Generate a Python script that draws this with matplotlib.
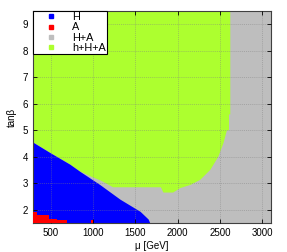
#!/usr/bin/env python3
import numpy as np
import matplotlib.pyplot as plt
from matplotlib.lines import Line2D

plt.rcParams['font.family'] = ['Liberation Sans', 'DejaVu Sans']

# boundaries of the scan regions
# h+H+A (green): lower edge as function of mu, then the right edge up to the top
green_mu = [290, 490, 725, 844, 1000, 1080, 1150, 1235, 1800, 1830, 1945, 2030, 2150,
            2265, 2385, 2480, 2540, 2580, 2605, 2605, 2620, 2620]
green_tb = [4.55, 4.16, 3.72, 3.45, 3.22, 3.12, 3.0, 2.85, 2.85, 2.65, 2.65, 2.82, 2.94,
            3.13, 3.51, 4.01, 4.52, 5.0, 5.0, 5.6, 5.6, 9.5]

# H (blue): upper edge
blue_mu = [290, 490, 725, 844, 1080, 1317, 1555, 1650, 1670]
blue_tb = [4.55, 4.16, 3.72, 3.45, 2.95, 2.40, 1.94, 1.65, 1.5]

# A (red): upper edge (steps)
red_mu = [290, 340, 340, 475, 475, 570, 570, 690, 690]
red_tb = [1.90, 1.90, 1.79, 1.79, 1.66, 1.66, 1.60, 1.60, 1.5]
red2_mu = [970, 1000]
red2_tb = [1.6, 1.6]

labels = ['H', 'A', 'H+A', 'h+H+A']
colors = ['#0000ff', '#ff0000', '#bebebe', '#adff2f']

fig = plt.figure(figsize=(2.87, 2.52), dpi=100)
ax = fig.add_axes([0.115, 0.115, 0.829, 0.841])
ax.set_facecolor(colors[2])

ymin, ymax = 1.5, 9.5
ax.fill(green_mu + [290], green_tb + [9.5], color=colors[3], lw=0, zorder=1)
ax.fill_between(blue_mu, ymin, blue_tb, color=colors[0], lw=0, zorder=2)
ax.fill_between(red_mu, ymin, red_tb, color=colors[1], lw=0, zorder=3)
ax.fill_between(red2_mu, ymin, red2_tb, color=colors[1], lw=0, zorder=3)

ax.set_xlim(290, 3100)
ax.set_ylim(ymin, ymax)
ax.set_xticks([500, 1000, 1500, 2000, 2500, 3000])
ax.set_yticks(range(2, 10))
ax.tick_params(direction='in', top=True, right=True, labelsize=7, length=3, width=0.6)
ax.grid(True, color='#808080', ls=(0, (1.5, 1.5)), lw=0.5, alpha=0.6)
ax.set_axisbelow(False)
for s in ax.spines.values():
    s.set_linewidth(0.8)
    s.set_color('#404040')

ax.set_xlabel('μ [GeV]', fontsize=7, labelpad=2)
ax.set_ylabel('tanβ', fontsize=7, labelpad=4)

handles = [Line2D([], [], ls='', marker='s', ms=3, color=c) for c in colors]
leg = ax.legend(handles, labels, loc='upper left', prop={'size': 7.8}, frameon=True,
                fancybox=False, borderaxespad=0, handletextpad=0.3,
                labelspacing=0.02, borderpad=0.1, handlelength=3.2)
leg.get_frame().set_edgecolor('black')
leg.get_frame().set_linewidth(0.8)
leg.get_frame().set_alpha(1)
leg.set_zorder(10)

fig.savefig('out.png', dpi=100)
